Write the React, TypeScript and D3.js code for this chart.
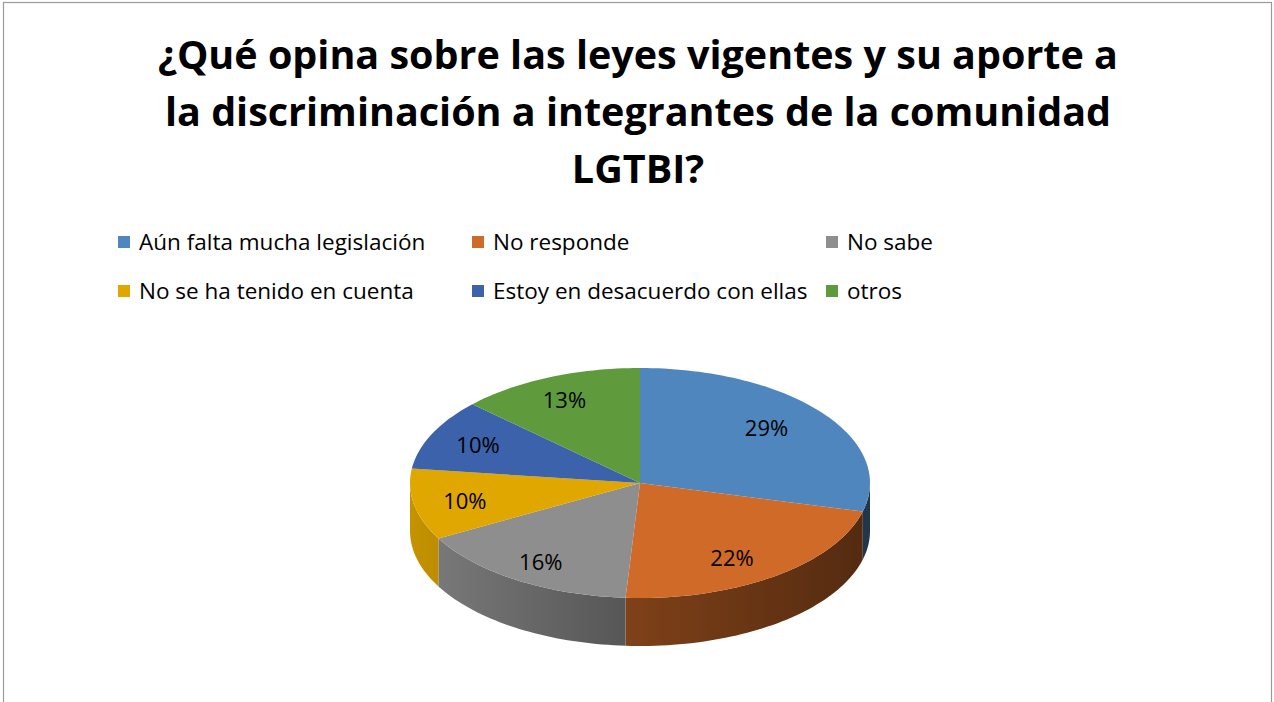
import * as d3 from 'd3';
import React from 'react';

const categories = [
  'Aún falta mucha legislación',
  'No responde',
  'No sabe',
  'No se ha tenido en cuenta',
  'Estoy en desacuerdo con ellas',
  'otros',
];
const values = [29, 22, 16, 10, 10, 13];
const colors = ['#4e86bd', '#d06a29', '#8e8e8e', '#e0a700', '#3b62ab', '#5f9a3d'];
const titleLines = [
  '¿Qué opina sobre las leyes vigentes y su aporte a',
  'la discriminación a integrantes de la comunidad',
  'LGTBI?',
];

const W = 1274;
const H = 702;
const cx = 640;
const cy = 483;
const rx = 230;
const ry = 115;
const depth = 48;
const font = '"Open Sans", Lato, sans-serif';

type Pt = [number, number];

export default function App() {
  const pie = d3
    .pie<number>()
    .sort(null)
    .value(d => d)
    .startAngle(0)
    .endAngle(Math.PI * 2);
  const arcs = pie(values);

  const px = (a: number) => cx + rx * Math.sin(a);
  const py = (a: number) => cy - ry * Math.cos(a);

  const line = d3.line<Pt>().x(d => d[0]).y(d => d[1]);

  const sample = (a0: number, a1: number, dy = 0): Pt[] => {
    const n = Math.max(2, Math.ceil(((a1 - a0) / Math.PI) * 120));
    return d3.range(n + 1).map(i => {
      const a = a0 + ((a1 - a0) * i) / n;
      return [px(a), py(a) + dy] as Pt;
    });
  };

  const topPath = (a0: number, a1: number) => line([[cx, cy], ...sample(a0, a1), [cx, cy]]) + 'Z';

  // front wall: only the part of the rim facing the viewer (90° .. 270°)
  const sidePath = (a0: number, a1: number) => {
    const lo = Math.max(a0, Math.PI / 2);
    const hi = Math.min(a1, (Math.PI * 3) / 2);
    if (hi <= lo) return null;
    const top = sample(lo, hi);
    const bottom = sample(lo, hi, depth).reverse();
    return line([...top, ...bottom]) + 'Z';
  };

  const shade = (c: string, k: number) => {
    const col = d3.rgb(c);
    return d3.rgb(col.r * k, col.g * k, col.b * k).formatHex();
  };

  const legendCols = [118, 472, 826];
  const legendRows = [242, 291];

  return (
    <svg
      width={W}
      height={H}
      style={{ position: 'absolute', left: 0, top: 0, background: '#fff' }}
      fontFamily={font}
    >
      <defs>
        {colors.map((c, i) => (
          <linearGradient
            key={i}
            id={`side${i}`}
            gradientUnits="userSpaceOnUse"
            x1={cx - rx}
            x2={cx + rx}
            y1={0}
            y2={0}
          >
            <stop offset="0" stopColor={shade(c, 0.88)} />
            <stop offset="0.45" stopColor={shade(c, 0.62)} />
            <stop offset="1" stopColor={shade(c, 0.4)} />
          </linearGradient>
        ))}
      </defs>
      <rect x={3.5} y={2.5} width={1268} height={H + 10} fill="#fff" stroke="#9a9a9a" strokeWidth={1.2} />

      {titleLines.map((t, i) => (
        <text
          key={i}
          x={638}
          y={69 + i * 57}
          textAnchor="middle"
          fontSize={39.5}
          fontWeight="bold"
          fill="#000"
        >
          {t}
        </text>
      ))}

      {categories.map((c, i) => {
        const x = legendCols[i % 3];
        const y = legendRows[Math.floor(i / 3)];
        return (
          <g key={c}>
            <rect x={x} y={y - 6} width={12} height={12} fill={colors[i]} />
            <text x={x + 21} y={y + 8} fontSize={22.5} fill="#000">
              {c}
            </text>
          </g>
        );
      })}

      <g>
        {arcs.map((a, i) => {
          const d = sidePath(a.startAngle, a.endAngle);
          return d ? <path key={i} d={d} fill={`url(#side${i})`} /> : null;
        })}
        {arcs.map((a, i) => (
          <path key={i} d={topPath(a.startAngle, a.endAngle)} fill={colors[i]} />
        ))}
        {arcs.map((a, i) => {
          const m = (a.startAngle + a.endAngle) / 2;
          return (
            <text
              key={i}
              x={cx + 0.74 * rx * Math.sin(m) - 8}
              y={cy - 0.8 * ry * Math.cos(m)}
              textAnchor="middle"
              dominantBaseline="central"
              fontSize={22}
              fill="#000"
            >
              {`${a.data}%`}
            </text>
          );
        })}
      </g>
    </svg>
  );
}
